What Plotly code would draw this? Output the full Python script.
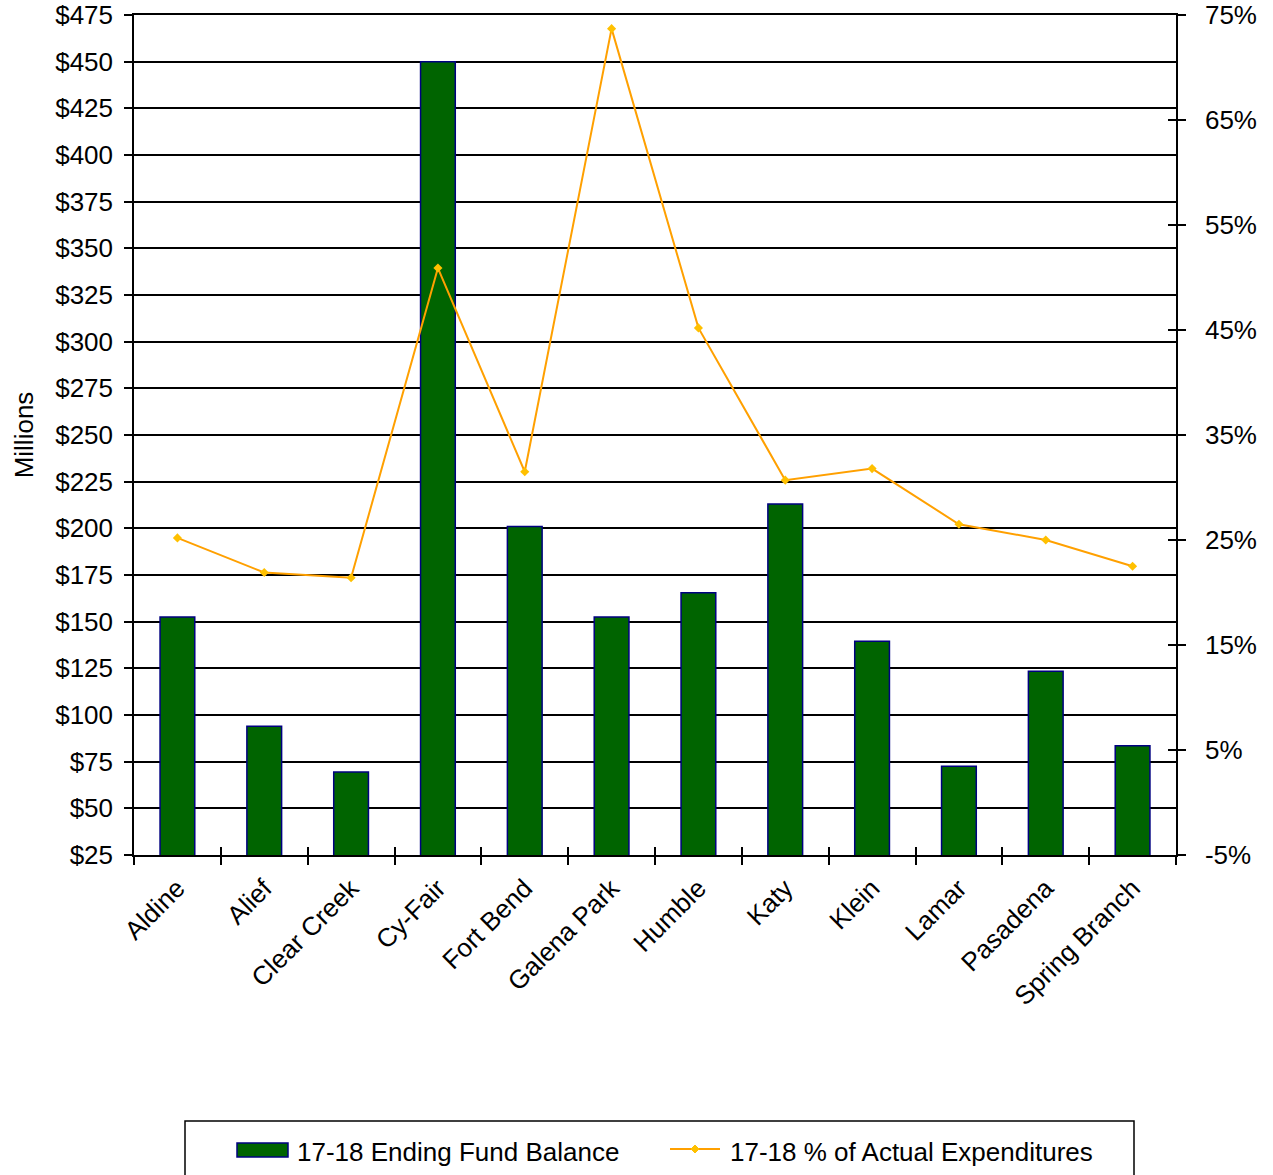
import plotly.graph_objects as go

# District data
districts = ["Aldine", "Alief", "Clear Creek", "Cy-Fair", "Fort Bend", "Galena Park",
             "Humble", "Katy", "Klein", "Lamar", "Pasadena", "Spring Branch"]
fund_balance = [152.5, 94.0, 69.5, 450.0, 201.0, 152.5, 165.5, 213.0, 139.5, 72.5, 123.5, 83.5]
pct_expenditures = [25.2, 21.9, 21.4, 50.9, 31.5, 73.7, 45.2, 30.7, 31.8, 26.5, 25.0, 22.5]

bar_name = "17-18 Ending Fund Balance"
line_name = "17-18 % of Actual Expenditures"

left_ticks = list(range(25, 476, 25))
right_ticks = list(range(-5, 76, 10))
boundaries = [i - 0.5 for i in range(len(districts) + 1)]

FONT = "Liberation Sans, Arial, sans-serif"
BAR_FILL, BAR_EDGE = "#006400", "#000080"
LINE_COLOR, MARKER_COLOR = "#FFA000", "#FFC000"

W, H = 1273, 1175
ML, MR, MT, MB = 134, 97, 15, 320
PW, PH = W - ML - MR, H - MT - MB


def px(x):
    """pixel x -> paper x"""
    return (x - ML) / PW


def py(y):
    """pixel y -> paper y"""
    return (H - MB - y) / PH


fig = go.Figure()

fig.add_trace(go.Bar(
    x=districts, y=fund_balance, name=bar_name,
    marker=dict(color=BAR_FILL, line=dict(color=BAR_EDGE, width=1.5)),
    yaxis="y", showlegend=False,
))

fig.add_trace(go.Scatter(
    x=districts, y=pct_expenditures, name=line_name,
    mode="lines+markers",
    line=dict(color=LINE_COLOR, width=2),
    marker=dict(symbol="diamond", size=7, color=MARKER_COLOR),
    yaxis="y2", showlegend=False,
))

# helper traces so the overlay axes carrying the inner half of each tick mark get drawn
fig.add_trace(go.Scatter(x=[None], y=[None], xaxis="x2", yaxis="y", showlegend=False, hoverinfo="skip"))
fig.add_trace(go.Scatter(x=[None], y=[None], xaxis="x", yaxis="y3", showlegend=False, hoverinfo="skip"))

# legend box drawn with shapes
shapes = [
    dict(type="rect", xref="paper", yref="paper",
         x0=px(185), x1=px(1134), y0=py(1200), y1=py(1121),
         line=dict(color="black", width=1.5), fillcolor="white", layer="above"),
    dict(type="rect", xref="paper", yref="paper",
         x0=px(237), x1=px(288), y0=py(1157), y1=py(1143),
         line=dict(color=BAR_EDGE, width=1.5), fillcolor=BAR_FILL, layer="above"),
    dict(type="line", xref="paper", yref="paper",
         x0=px(670), x1=px(720), y0=py(1149), y1=py(1149),
         line=dict(color=LINE_COLOR, width=2), layer="above"),
    dict(type="path", xref="paper", yref="paper",
         path=(f"M {px(695)},{py(1145)} L {px(699)},{py(1149)} "
               f"L {px(695)},{py(1153)} L {px(691)},{py(1149)} Z"),
         line=dict(color=MARKER_COLOR, width=1), fillcolor=MARKER_COLOR, layer="above"),
]

annotations = [
    dict(text=bar_name, xref="paper", yref="paper", x=px(295), y=py(1152),
         xanchor="left", yanchor="middle", showarrow=False, font=dict(size=26)),
    dict(text=line_name, xref="paper", yref="paper", x=px(728), y=py(1152),
         xanchor="left", yanchor="middle", showarrow=False, font=dict(size=26)),
]

fig.update_layout(
    width=W, height=H,
    margin=dict(l=ML, r=MR, t=MT, b=MB),
    plot_bgcolor="white", paper_bgcolor="white",
    font=dict(family=FONT, size=26, color="black"),
    bargap=0.6,
    showlegend=False,
    shapes=shapes,
    annotations=annotations,
    xaxis=dict(
        type="category", categoryorder="array", categoryarray=districts,
        range=[-0.5, len(districts) - 0.5],
        tickson="boundaries", ticks="outside", ticklen=8, tickwidth=1.5, tickcolor="black",
        tickangle=-45, tickfont=dict(size=26), ticklabelstandoff=6,
        showline=True, mirror=True, linecolor="black", linewidth=1.5,
        showgrid=False, zeroline=False, automargin=False,
    ),
    xaxis2=dict(
        overlaying="x", anchor="y", side="bottom", type="linear",
        range=[-0.5, len(districts) - 0.5],
        tickmode="array", tickvals=boundaries,
        ticks="inside", ticklen=8, tickwidth=1.5, tickcolor="black",
        showticklabels=False, showgrid=False, zeroline=False, showline=False,
        automargin=False,
    ),
    yaxis=dict(
        range=[25, 475], tickmode="array", tickvals=left_ticks,
        ticktext=[f"${v}" for v in left_ticks],
        ticks="outside", ticklen=8, tickwidth=1.5, tickcolor="black",
        ticklabelstandoff=6,
        showgrid=True, gridcolor="black", gridwidth=1.5,
        showline=True, linecolor="black", linewidth=1.5,
        zeroline=False, automargin=False,
        title=dict(text="Millions", font=dict(size=26), standoff=14),
    ),
    yaxis2=dict(
        overlaying="y", side="right", anchor="x",
        range=[-5, 75], tickmode="array", tickvals=right_ticks,
        ticktext=[f"{v}%" for v in right_ticks],
        ticks="outside", ticklen=8, tickwidth=1.5, tickcolor="black",
        ticklabelstandoff=14,
        showgrid=False, zeroline=False,
        showline=True, linecolor="black", linewidth=1.5, automargin=False,
    ),
    yaxis3=dict(
        overlaying="y", side="right", anchor="x",
        range=[-5, 75], tickmode="array", tickvals=right_ticks,
        ticks="inside", ticklen=8, tickwidth=1.5, tickcolor="black",
        showticklabels=False, showgrid=False, zeroline=False, showline=False,
        automargin=False,
    ),
)

fig.write_html("out.html")
